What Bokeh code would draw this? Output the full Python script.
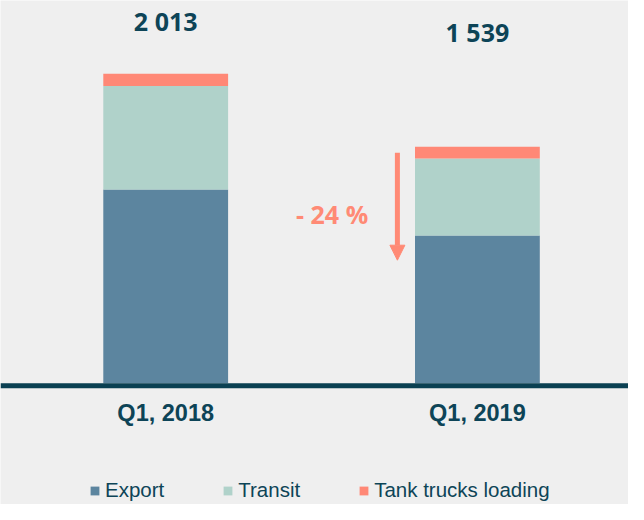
from bokeh.plotting import figure
from bokeh.models import ColumnDataSource, Range1d, Span, Arrow, NormalHead, Legend, LegendItem
from bokeh.core.properties import value
from bokeh.embed import file_html
from bokeh.resources import INLINE

# ---- data ----
categories = ["Q1, 2018", "Q1, 2019"]
series_names = ["Export", "Transit", "Tank trucks loading"]
export = [1261, 962]
transit = [673, 501]
tank = [79, 76]
totals = [2013, 1539]

# ---- styles ----
BG = "#efefef"
DARK = "#0d4457"
COLORS = ["#5c859f", "#b0d2ca", "#ff8876"]
SALMON = "#ff8a75"

W, H = 628, 504
BASE = 382.8    # baseline, px from top of canvas
PX = 6.505      # data units per pixel
X0 = 165.2      # px of first category centre
XSTEP = 311.7   # px between categories

p = figure(width=W, height=H, output_backend="svg", toolbar_location=None,
           x_range=Range1d(-X0 / XSTEP, (W - X0) / XSTEP),
           y_range=Range1d(-(H - BASE) * PX, BASE * PX),
           x_axis_type=None, y_axis_type=None, min_border=0)
p.grid.visible = False
p.outline_line_color = None
p.background_fill_color = BG
p.border_fill_color = BG

xs = list(range(len(categories)))
src = ColumnDataSource(dict(x=xs, Export=export, Transit=transit, Tank=tank))
rs = p.vbar_stack(["Export", "Transit", "Tank"], x="x", width=124.8 / XSTEP,
                  fill_color=COLORS, line_color=None, source=src)

# baseline axis line
p.add_layout(Span(location=-2.5 * PX, dimension="width", line_color="#0a4052", line_width=5))

# totals
fmt = [f"{t:,}".replace(",", " ") for t in totals]
label_gap = [53.0, 114.4]
p.text(x=xs, y=[t + g * PX for t, g in zip(totals, label_gap)], text=fmt,
       text_align="center", text_baseline="middle", text_color=DARK,
       text_font=value("Open Sans"), text_font_style="bold", text_font_size="25px")

# category labels
p.text(x=xs, y=[-29.2 * PX] * len(xs), text=categories,
       text_align="center", text_baseline="middle", text_color=DARK,
       text_font=value("Liberation Sans"), text_font_style="bold", text_font_size="23.5px")

# change annotation
pct = round((totals[1] - totals[0]) / totals[0] * 100)
p.text(x=[(331.6 - X0) / XSTEP], y=[(BASE - 213.2) * PX], text=[f"- {abs(pct)} %"],
       text_align="center", text_baseline="middle", text_color=SALMON,
       text_font=value("Open Sans"), text_font_style="bold", text_font_size="25px")
ax = (396.9 - X0) / XSTEP
p.add_layout(Arrow(end=NormalHead(size=15, fill_color=SALMON, line_color=SALMON),
                   x_start=ax, y_start=(BASE - 152.2) * PX, x_end=ax, y_end=(BASE - 259.7) * PX,
                   line_color=SALMON, line_width=5))

legend = Legend(items=[LegendItem(label=n, renderers=[r]) for n, r in zip(series_names, rs)],
                orientation="horizontal", location=(89, 2),
                glyph_width=11, glyph_height=11, label_standoff=5, spacing=58,
                padding=0, margin=0, border_line_alpha=0, background_fill_alpha=0,
                label_text_font="Liberation Sans", label_text_font_size="20.5px",
                label_text_color=DARK)
p.add_layout(legend)

html = file_html(p, INLINE)
html = html.replace("<body>", '<body style="background:#efefef">', 1)
open("out.html", "w").write(html)
